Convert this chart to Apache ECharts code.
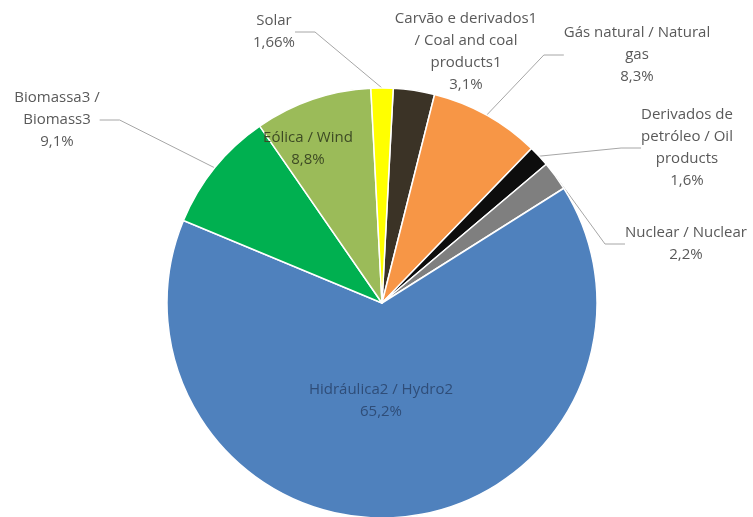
<!DOCTYPE html>
<html>
<head>
<meta charset="utf-8">
<script src="https://cdn.jsdelivr.net/npm/echarts@6/dist/echarts.min.js"></script>
<style>
  html, body { margin: 0; padding: 0; background: #fff; }
  #chart { width: 753px; height: 517px; }
</style>
</head>
<body>
<div id="chart"></div>
<script>
// shares of the energy matrix, clockwise from the top
const names = [
  'Carvão e derivados1\n/ Coal and coal\nproducts1',
  'Gás natural / Natural\ngas',
  'Derivados de\npetróleo / Oil\nproducts',
  'Nuclear / Nuclear',
  'Hidráulica2 / Hydro2',
  'Biomassa3 /\nBiomass3',
  'Eólica / Wind',
  'Solar'
];
const values = [3.1, 8.3, 1.6, 2.2, 65.2, 9.1, 8.8, 1.66];
const valueText = ['3,1%', '8,3%', '1,6%', '2,2%', '65,2%', '9,1%', '8,8%', '1,66%'];

const colors = ['#3b3326', '#f79646', '#0d0d0d', '#7f7f7f', '#4f81bd', '#00b050', '#9bbb59', '#ffff00'];
// where each label sits (centre of the text block)
const labelPos = [[466, 52], [637, 55], [687, 148], [686, 244], [381, 401], [57, 120], [308, 149], [274, 32]];
const insideLabel = [false, false, false, false, true, false, true, false];
const hideLine = [true, false, false, false, true, false, true, false];

const chart = echarts.init(document.getElementById('chart'));

const seriesData = names.map((n, i) => ({
  name: n,
  value: values[i],
  itemStyle: { color: colors[i] },
  label: insideLabel[i] ? { position: 'inside', color: i === 4 ? '#2f4d78' : '#3d4a24' } : {},
  labelLine: { show: !hideLine[i] }
}));

chart.setOption({
  animation: false,
  series: [{
    type: 'pie',
    center: [382, 303],
    radius: 215,
    startAngle: 87,
    clockwise: true,
    avoidLabelOverlap: false,
    data: seriesData,
    itemStyle: { borderColor: '#ffffff', borderWidth: 1.5 },
    label: {
      show: true,
      position: 'outside',
      fontFamily: 'Open Sans',
      fontSize: 15,
      lineHeight: 22,
      color: '#595959',
      align: 'center',
      formatter: p => p.name + '\n' + valueText[p.dataIndex]
    },
    labelLine: {
      show: true,
      length: 15,
      length2: 20,
      lineStyle: { color: '#a6a6a6', width: 1 }
    },
    labelLayout: p => {
      const pos = labelPos[p.dataIndex];
      return { x: pos[0], y: pos[1], align: 'center', verticalAlign: 'middle' };
    }
  }]
});
</script>
</body>
</html>
